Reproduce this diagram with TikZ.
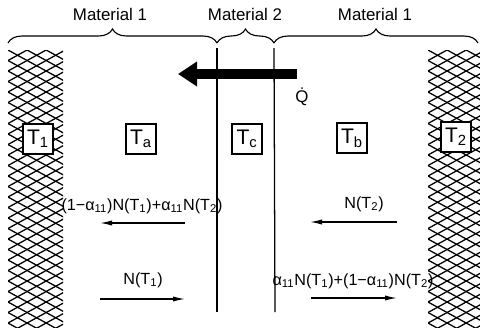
\documentclass[tikz,border=0pt]{standalone}
\usepackage{fontspec}
\setmainfont{Liberation Sans}
\usetikzlibrary{arrows.meta,decorations.pathreplacing}

\begin{document}
\begin{tikzpicture}[
  x=0.25mm, y=-0.25mm,
  tbox/.style={draw=black, line width=1.1pt, minimum size=7.5mm, inner sep=0pt, font=\fontsize{15}{17}\selectfont},
  matlbl/.style={font=\fontsize{12}{14}\selectfont},
  flux/.style={font=\fontsize{11.5}{13}\selectfont, inner sep=0pt},
  brc/.style={decorate, decoration={brace, amplitude=3.5mm, aspect=0.5}, line width=0.8pt},
  wall/.style={line width=0.9pt},
  hatch/.style={line width=0.9pt},
  ray/.style={-{Latex[length=3mm, width=1.3mm]}, line width=0.9pt},
  heat/.style={-{Triangle[length=4.8mm, width=6mm]}, line width=2.5mm}
]
\useasboundingbox (0,0) rectangle (480,327);

% Hatched reservoirs
\foreach \xa/\xb in {8/63, 428/480} {
  \begin{scope}
    \clip (\xa,50) rectangle (\xb,327);
    \foreach \k in {-8,...,34} {
      \draw[hatch] (\xa,50+\k*10.5) -- ++(60,33);
      \draw[hatch] (\xa,50+\k*10.5) -- ++(60,-33);
    }
  \end{scope}
}

% Interfaces
\coordinate (il) at (217,48);
\coordinate (ir) at (274,48);
\draw[wall] (il) -- (217,312);
\draw[wall] (ir) -- (275,312);

% Braces and material labels
\coordinate (bl) at (8,43);
\coordinate (bm1) at (217,43);
\coordinate (bm2) at (274,43);
\coordinate (br) at (478,43);
\draw[brc] (bl) -- (bm1);
\draw[brc] (bm1) -- (bm2);
\draw[brc] (bm2) -- (br);
\node[matlbl] (mat1l) at (110,14) {Material 1};
\node[matlbl] (mat2) at (245,14) {Material 2};
\node[matlbl] (mat1r) at (375,14) {Material 1};

% Heat flow
\coordinate (qs) at (297,74);
\coordinate (qe) at (178,74);
\draw[heat] (qs) -- (qe);
\node[font=\fontsize{12}{14}\selectfont] (qdot) at (302,97) {\.{Q}};

% Temperatures
\node[tbox, fill=white] (t1) at (38,139) {T\textsubscript{1}};
\node[tbox] (ta) at (141,139) {T\textsubscript{a}};
\node[tbox] (tc) at (247,139) {T\textsubscript{c}};
\node[tbox] (tb) at (352,138) {T\textsubscript{b}};
\node[tbox, fill=white] (t2) at (456,137) {T\textsubscript{2}};

% Photon fluxes
\node[flux] (fla) at (142,206) {(1−α\textsubscript{11})N(T\textsubscript{1})+α\textsubscript{11}N(T\textsubscript{2})};
\node[flux] (flb) at (364,204) {N(T\textsubscript{2})};
\node[flux] (fra) at (143,280) {N(T\textsubscript{1})};
\node[flux] (frb) at (353,281) {α\textsubscript{11}N(T\textsubscript{1})+(1−α\textsubscript{11})N(T\textsubscript{2})};

\coordinate (la1) at (185,223);
\coordinate (la2) at (100,223);
\coordinate (lb1) at (397,222);
\coordinate (lb2) at (310,222);
\coordinate (ra1) at (100,299);
\coordinate (ra2) at (185,299);
\coordinate (rb1) at (311,298);
\coordinate (rb2) at (397,298);
\draw[ray] (la1) -- (la2);
\draw[ray] (lb1) -- (lb2);
\draw[ray] (ra1) -- (ra2);
\draw[ray] (rb1) -- (rb2);

\end{tikzpicture}
\end{document}
